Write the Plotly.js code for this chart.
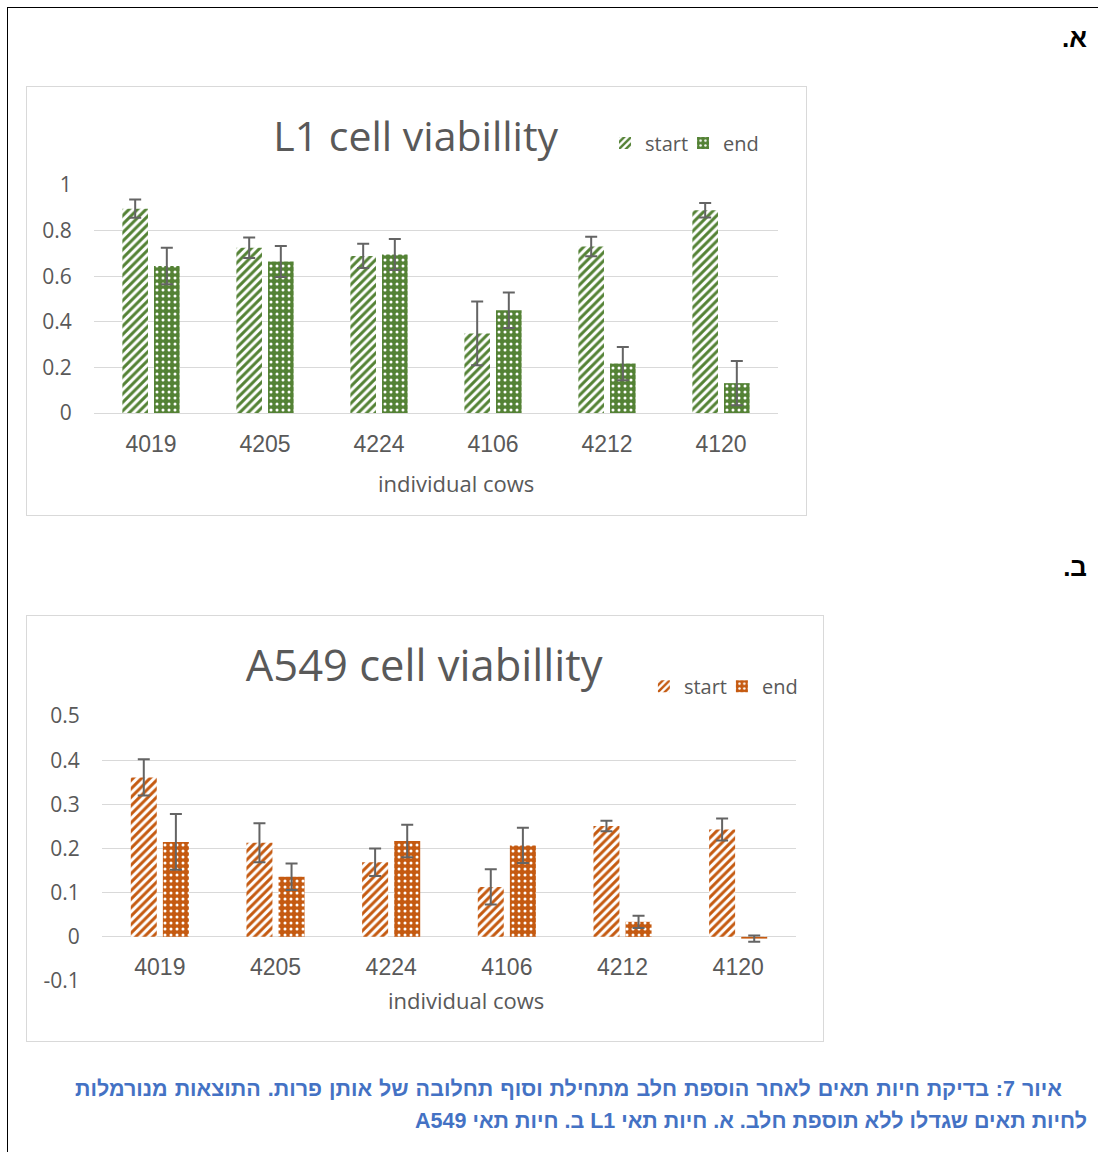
<!DOCTYPE html>
<html>
<head>
<meta charset="utf-8">
<script src="https://cdn.plot.ly/plotly-3.0.1.min.js"></script>
<style>
  html, body { margin:0; padding:0; background:#fff; width:1098px; height:1152px; overflow:hidden; }
  #page { position:absolute; left:7px; top:7px; width:1200px; height:1200px; border:1px solid #000; box-sizing:border-box; }
  .chartbox { position:absolute; border:1px solid #d9d9d9; background:#fff; }
  #c1 { left:26px; top:86px; width:779px; height:428px; }
  #c2 { left:26px; top:615px; width:796px; height:425px; }
  .heb { position:absolute; font-family:"Liberation Sans", Arial, sans-serif; font-weight:bold; direction:rtl; }
  .lab { font-size:26px; color:#000; right:11px; }
  .cap { font-size:21.5px; color:#4472C4; white-space:nowrap; }
</style>
</head>
<body>
<div id="page"></div>
<div class="heb lab" style="top:23px;">א.</div>
<div class="heb lab" style="top:552px;">ב.</div>
<div class="chartbox" id="c1"></div>
<div class="chartbox" id="c2"></div>
<div class="heb cap" id="cap1" style="left:75px; top:1077px; width:987px; text-align:justify; text-align-last:justify;">איור 7: בדיקת חיות תאים לאחר הוספת חלב מתחילת וסוף תחלובה של אותן פרות. התוצאות מנורמלות</div>
<div class="heb cap" id="cap2" style="right:11px; top:1109px; text-align:right;">לחיות תאים שגדלו ללא תוספת חלב. א. חיות תאי L1 ב. חיות תאי A549</div>
<script>
// ---- data ----
const cows = ['4019', '4205', '4224', '4106', '4212', '4120'];
const l1Start    = [0.896, 0.725, 0.689, 0.349, 0.730, 0.889];
const l1StartErr = [0.040, 0.045, 0.053, 0.140, 0.043, 0.032];
const l1End      = [0.645, 0.664, 0.695, 0.451, 0.217, 0.131];
const l1EndErr   = [0.080, 0.068, 0.068, 0.078, 0.073, 0.097];
const a549Start    = [0.361, 0.213, 0.169, 0.113, 0.251, 0.243];
const a549StartErr = [0.041, 0.044, 0.031, 0.040, 0.012, 0.025];
const a549End      = [0.215, 0.136, 0.217, 0.207, 0.034, -0.004];
const a549EndErr   = [0.063, 0.030, 0.037, 0.040, 0.014, 0.007];
const l1TickVals = [0, 0.2, 0.4, 0.6, 0.8, 1];
const l1TickText = ['0', '0.2', '0.4', '0.6', '0.8', '1'];
const a549TickVals = [-0.1, 0, 0.1, 0.2, 0.3, 0.4, 0.5];
const a549TickText = ['-0.1', '0', '0.1', '0.2', '0.3', '0.4', '0.5'];
const seriesNames = ['start', 'end'];

const GREEN = '#548235', ORANGE = '#C55A11', GRID = '#d9d9d9', TXT = '#595959', ERR = '#646464';
const calib = '"Open Sans", "Noto Sans", sans-serif';
const arial = '"Liberation Sans", Arial, sans-serif';

function traces(startV, startE, endV, endE, col) {
  const eb = (arr) => ({type:'data', array:arr, visible:true, color:ERR, thickness:2, width:6});
  return [
    {type:'bar', name:seriesNames[0], x:cows, y:startV, error_y:eb(startE),
     marker:{color:col, line:{width:0}, pattern:{shape:'/', fgcolor:col, bgcolor:'#ffffff', size:6, solidity:0.5}}},
    {type:'bar', name:seriesNames[1], x:cows, y:endV, error_y:eb(endE),
     marker:{color:col, line:{width:0}, pattern:{shape:'.', fgcolor:'#ffffff', bgcolor:col, size:6, solidity:0.2}}}
  ];
}

function layout(o) {
  return {
    width:o.w, height:o.h,
    margin:{l:o.l, r:o.r, t:o.t, b:o.b, pad:0, autoexpand:false},
    paper_bgcolor:'#ffffff', plot_bgcolor:'#ffffff',
    barmode:'group', bargap:0.445, bargroupgap:0.19,
    showlegend:true,
    legend:{orientation:'h', xref:'container', yref:'container', x:o.legx, xanchor:'left', y:o.legy, yanchor:'middle',
            entrywidth:33, entrywidthmode:'pixels',
            font:{family:calib, size:20, color:TXT}, bgcolor:'rgba(0,0,0,0)', traceorder:'normal'},
    title:{text:o.title, font:{family:calib, size:o.titleSize, color:TXT},
           xref:'container', x:o.titx, xanchor:'center', yref:'container', y:o.tity, yanchor:'middle'},
    xaxis:{type:'category', showgrid:false, showline:false, zeroline:false,
           ticks:'outside', ticklen:0, tickcolor:'rgba(0,0,0,0)', ticklabelstandoff:o.xstand,
           tickfont:{family:arial, size:23, color:TXT},
           anchor:o.xanchor, position:o.xpos, fixedrange:true},
    yaxis:{range:o.yrange, tickvals:o.tv, ticktext:o.tt, showgrid:true, gridcolor:GRID, gridwidth:1,
           zeroline:true, zerolinecolor:GRID, zerolinewidth:1, showline:false,
           ticks:'outside', ticklen:0, tickcolor:'rgba(0,0,0,0)', ticklabelstandoff:o.ystand,
           tickfont:{family:calib, size:21, color:TXT}, fixedrange:true},
    annotations:[{text:'individual cows', xref:'paper', yref:'paper', x:o.axtx, y:o.axty,
                  xanchor:'center', yanchor:'middle', showarrow:false,
                  font:{family:calib, size:22, color:TXT}}]
  };
}

Plotly.newPlot('c1', traces(l1Start, l1StartErr, l1End, l1EndErr, GREEN), layout({
  w:779, h:428, l:67, r:28, t:98, b:102,
  title:'L1 cell viabillity', titleSize:41, titx:0.499, tity:0.883,
  legx:0.742, legy:0.869,
  xstand:10, ystand:17, xanchor:'y', xpos:0,
  yrange:[0, 1], tv:l1TickVals, tt:l1TickText,
  axtx:0.529, axty:-0.305
}), {displayModeBar:false, staticPlot:true});

Plotly.newPlot('c2', traces(a549Start, a549StartErr, a549End, a549EndErr, ORANGE), layout({
  w:796, h:425, l:75, r:27, t:100, b:60,
  title:'A549 cell viabillity', titleSize:43.5, titx:0.499, tity:0.882,
  legx:0.775, legy:0.835,
  xstand:10, ystand:17, xanchor:'free', xpos:1/6,
  yrange:[-0.1, 0.5], tv:a549TickVals, tt:a549TickText,
  axtx:0.5245, axty:-0.0717
}), {displayModeBar:false, staticPlot:true});
</script>
</body>
</html>
